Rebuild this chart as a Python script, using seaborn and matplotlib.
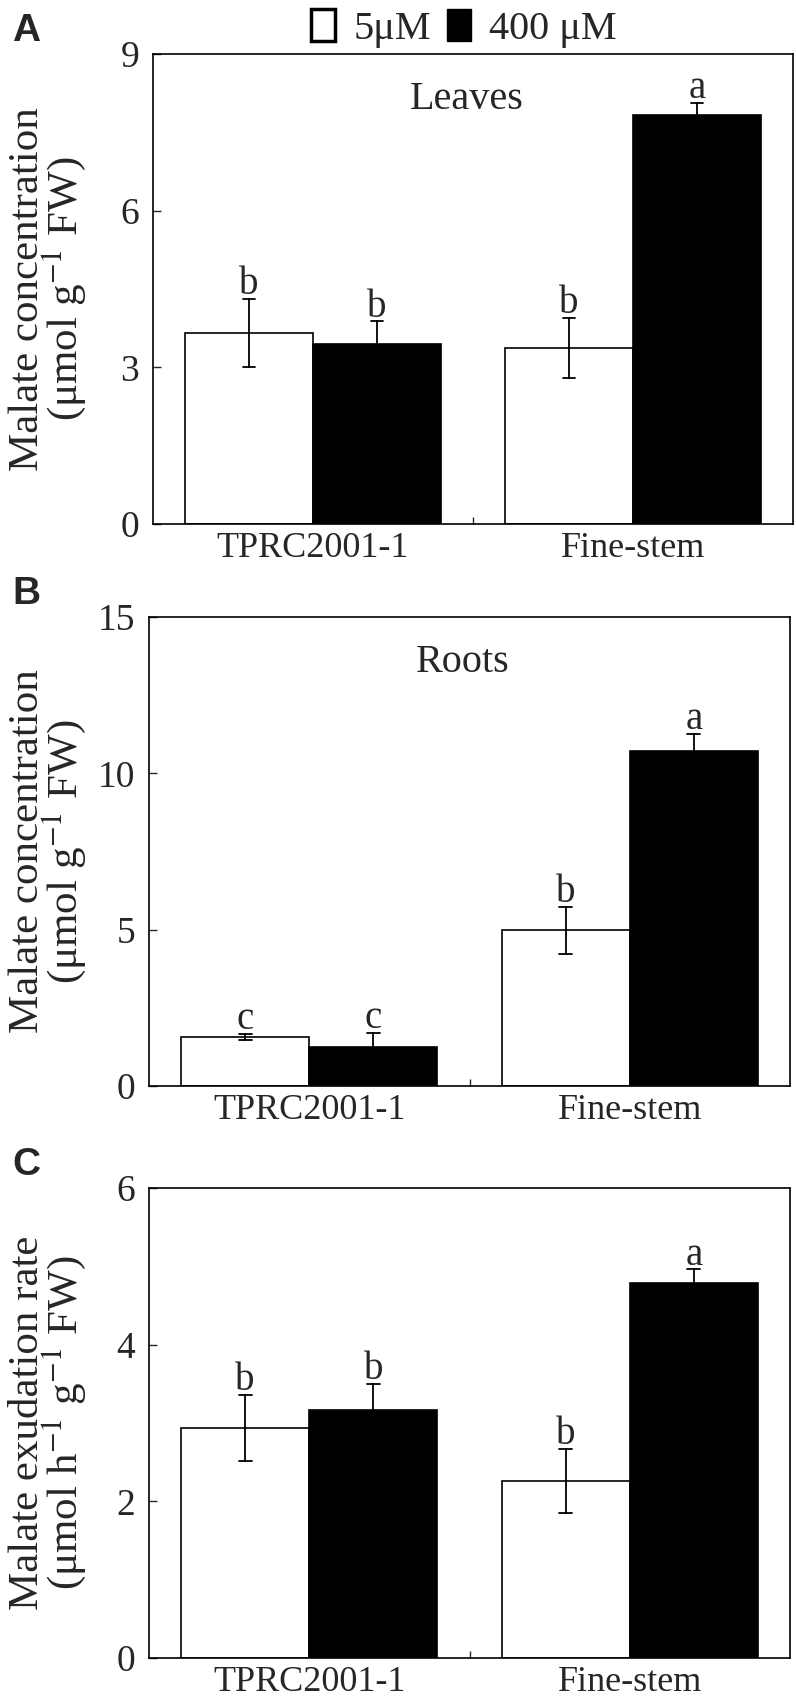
import numpy as np
import pandas as pd
import matplotlib
matplotlib.use("Agg")
import matplotlib.pyplot as plt
import seaborn as sns
from matplotlib.patches import Patch

# categories
genotypes = ["TPRC2001-1", "Fine-stem"]
treatments = ["5μM", "400 μM"]

# Leaves (A): values for [TPRC2001-1, Fine-stem]
leaves_low = [3.66, 3.37]
leaves_high = [3.45, 7.83]
leaves_low_err = [0.65, 0.58]
leaves_high_err = [0.43, 0.24]
leaves_low_sig = ["b", "b"]
leaves_high_sig = ["b", "a"]

# Roots (B)
roots_low = [1.57, 4.98]
roots_high = [1.25, 10.70]
roots_low_err = [0.10, 0.76]
roots_high_err = [0.46, 0.57]
roots_low_sig = ["c", "b"]
roots_high_sig = ["c", "a"]

# Exudation (C)
exud_low = [2.94, 2.26]
exud_high = [3.17, 4.79]
exud_low_err = [0.42, 0.41]
exud_high_err = [0.33, 0.17]
exud_low_sig = ["b", "b"]
exud_high_sig = ["b", "a"]


def make_df(low, high, low_err, high_err):
    # two rows per bar (mean - err, mean + err) so seaborn draws the given error range
    rows = []
    for t, vals, errs in [(treatments[0], low, low_err), (treatments[1], high, high_err)]:
        for g, v, e in zip(genotypes, vals, errs):
            rows.append({"genotype": g, "treatment": t, "value": v - e})
            rows.append({"genotype": g, "treatment": t, "value": v + e})
    return pd.DataFrame(rows)


sns.set_style("ticks")
plt.rcParams["font.family"] = ["Liberation Serif", "DejaVu Serif"]
plt.rcParams["mathtext.fontset"] = "stix"
plt.rcParams["axes.linewidth"] = 1.2

fig = plt.figure(figsize=(7.96, 17), dpi=100)
W, H = 796, 1700

panels = [
    dict(tag="A", box=(153, 54, 793, 524), ymax=9, yticks=[0, 3, 6, 9],
         data=(leaves_low, leaves_high, leaves_low_err, leaves_high_err),
         sig=(leaves_low_sig, leaves_high_sig), inner="Leaves",
         ylabel="Malate concentration\n(μmol g$^{\\mathrm{-1}}$ FW)"),
    dict(tag="B", box=(149, 617, 790, 1086), ymax=15, yticks=[0, 5, 10, 15],
         data=(roots_low, roots_high, roots_low_err, roots_high_err),
         sig=(roots_low_sig, roots_high_sig), inner="Roots",
         ylabel="Malate concentration\n(μmol g$^{\\mathrm{-1}}$ FW)"),
    dict(tag="C", box=(149, 1188, 790, 1658), ymax=6, yticks=[0, 2, 4, 6],
         data=(exud_low, exud_high, exud_low_err, exud_high_err),
         sig=(exud_low_sig, exud_high_sig), inner=None,
         ylabel="Malate exudation rate\n(μmol h$^{\\mathrm{-1}}$ g$^{\\mathrm{-1}}$ FW)"),
]

for p in panels:
    x0, y0, x1, y1 = p["box"]
    ax = fig.add_axes([x0 / W, 1 - y1 / H, (x1 - x0) / W, (y1 - y0) / H])
    df = make_df(*p["data"])
    sns.barplot(data=df, x="genotype", y="value", hue="treatment",
                order=genotypes, hue_order=treatments,
                palette=["white", "black"], edgecolor="black", linewidth=1.2,
                errorbar=lambda v: (v.min(), v.max()), capsize=0.08,
                err_kws={"color": "black", "linewidth": 1.3},
                saturation=1, legend=False, ax=ax)

    # significance letters on top of each error bar
    means = p["data"][0] + p["data"][1]
    errs = p["data"][2] + p["data"][3]
    letters = p["sig"][0] + p["sig"][1]
    for bar, m, e, s in zip(ax.patches, means, errs, letters):
        ax.annotate(s, (bar.get_x() + bar.get_width() / 2, m + e),
                    xytext=(0, 3.5), textcoords="offset points",
                    ha="center", va="baseline", fontsize=28)

    ax.set_ylim(0, p["ymax"])
    ax.set_yticks(p["yticks"])
    ax.set_xlim(-0.5, 1.5)
    ax.set_xticks([0.5], minor=True)
    ax.tick_params(axis="x", which="major", length=0, pad=6, labelsize=26)
    ax.tick_params(axis="x", which="minor", direction="in", length=5, width=1)
    ax.tick_params(axis="y", direction="in", length=6, width=1, pad=10, labelsize=27)
    for sp in ax.spines.values():
        sp.set_visible(True)
        sp.set_color("black")
    ax.set_xlabel("")
    ax.set_ylabel(p["ylabel"], fontsize=31, linespacing=0.8)
    yc = 1 - (y0 + y1) / 2 / H
    ax.yaxis.set_label_coords(88 / W, yc, transform=fig.transFigure)

    if p["inner"]:
        ax.text(0.49, 0.883, p["inner"], transform=ax.transAxes,
                ha="center", va="baseline", fontsize=29)

    fig.text(12 / W, 1 - (y0 - 41) / H, p["tag"], ha="left", va="top",
             fontsize=28, fontweight="bold", family="Liberation Sans")

handles = [Patch(facecolor="white", edgecolor="black", linewidth=2.5),
           Patch(facecolor="black", edgecolor="black", linewidth=1)]
fig.legend(handles, treatments, loc="upper center", bbox_to_anchor=(0.583, 1.004),
           ncol=2, frameon=False, fontsize=29, handlelength=0.6, handleheight=0.85,
           handletextpad=0.45, columnspacing=0.4, borderaxespad=0)

fig.savefig("out.png", dpi=100)
